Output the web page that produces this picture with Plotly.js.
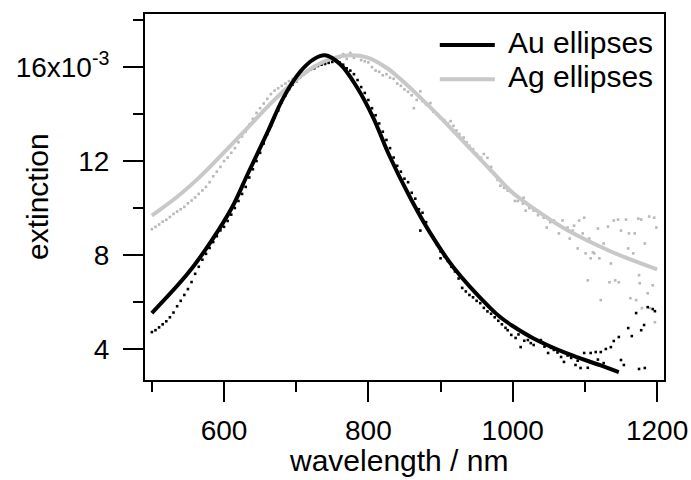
<!DOCTYPE html>
<html>
<head>
<meta charset="utf-8">
<script src="https://cdn.plot.ly/plotly-3.0.1.min.js"></script>
<style>html,body{margin:0;padding:0;background:#fff;}#chart{width:691px;height:480px;}</style>
</head>
<body>
<div id="chart"></div>
<script>
// extinction values in units of 1e-3
const auFitX = [500,550,583,611,633,661,682,706,725,740,761,785,807,828,858,886,918,969,983,1000,1029,1076,1122,1147];
const auFitY = [5.53,7.22,8.62,10.02,11.46,13.28,14.68,15.82,16.35,16.5,16.12,15.1,13.83,12.3,10.44,8.92,7.47,5.74,5.35,4.98,4.45,3.80,3.30,3.02];

const agFitX = [500,536,569,601,629,668,696,724,751,775,799,826,844,872,900,928,956,979,1000,1040,1076,1136,1200];
const agFitY = [9.68,10.50,11.40,12.40,13.30,14.55,15.35,16.00,16.38,16.50,16.40,15.95,15.50,14.70,13.85,12.95,12.05,11.30,10.65,9.75,9.05,8.15,7.39];

const auDotX = [500,505,510,515,520,525,530,535,540,545,550,555,560,565,570,575,580,585,590,595,600,605,610,615,620,625,630,635,640,645,650,655,660,665,670,675,680,685,690,695,700,705,710,715,720,725,730,735,740,745,750,755,760,765,770,775,780,785,790,795,800,805,810,815,820,825,830,835,840,845,850,855,860,865,870,872,875,880,885,890,895,900,900,905,910,915,920,925,930,935,940,945,950,955,960,965,970,975,980,985,990,993,998,1004,1008,1011,1016,1021,1025,1029,1034,1039,1044,1049,1053,1057,1062,1067,1071,1076,1081,1087,1090,1094,1099,1104,1108,1115,1118,1122,1126,1129,1136,1140,1147,1150,1154,1160,1165,1171,1175,1178,1182,1183,1187,1194,1197];
const auDotY = [4.72,4.80,4.92,5.05,5.18,5.35,5.55,5.82,6.05,6.30,6.55,6.85,7.20,7.50,7.80,8.05,8.30,8.55,8.80,9.05,9.20,9.45,9.72,10.00,10.30,10.60,10.90,11.30,11.65,12.00,12.35,12.75,13.15,13.50,13.85,14.15,14.50,14.80,15.05,15.25,15.40,15.55,15.70,15.80,15.90,15.95,16.05,16.10,16.15,16.18,16.22,16.25,16.20,16.10,15.95,15.85,15.70,15.45,15.15,14.90,14.60,14.25,13.95,13.60,13.25,12.90,12.55,12.15,11.80,11.55,11.25,11.10,10.65,10.40,9.95,9.04,9.80,9.40,9.00,8.75,8.45,8.15,7.86,7.95,7.75,7.50,7.30,7.00,6.60,6.45,6.30,6.20,6.05,5.95,5.75,5.60,5.50,5.35,5.20,5.05,4.90,4.80,4.60,4.47,4.62,4.08,4.35,4.38,4.25,4.17,4.35,4.38,4.10,3.83,4.05,3.96,3.85,3.66,3.45,3.72,3.62,3.32,3.50,3.19,3.83,3.20,3.83,3.87,3.55,3.87,3.40,4.00,4.08,4.34,4.51,3.53,3.32,4.89,4.55,5.53,3.15,4.80,5.02,3.19,5.78,5.70,5.61];

const agDotX = [500,505,510,515,520,525,530,535,540,545,550,555,560,565,570,575,580,585,590,595,600,605,610,615,620,625,630,635,640,645,650,655,660,665,670,675,680,685,690,695,700,705,710,715,720,725,730,735,740,745,750,755,760,765,770,775,780,785,790,795,800,805,810,815,820,825,830,835,840,845,850,855,860,863,867,872,875,880,886,890,895,900,905,910,914,918,922,926,932,936,940,945,950,956,960,965,970,974,979,983,988,993,1001,1003,1007,1014,1015,1018,1023,1029,1035,1043,1047,1052,1057,1064,1069,1076,1079,1083,1085,1090,1092,1097,1099,1101,1104,1106,1108,1111,1113,1118,1120,1122,1126,1132,1134,1136,1140,1142,1146,1147,1150,1157,1160,1161,1163,1167,1169,1171,1174,1175,1176,1178,1179,1183,1187,1189,1190,1194,1196,1197,1199];
const agDotY = [9.10,9.20,9.30,9.42,9.50,9.62,9.75,9.85,9.95,10.05,10.20,10.32,10.45,10.60,10.75,10.90,11.10,11.35,11.55,11.75,12.00,12.15,12.35,12.55,12.80,13.05,13.25,13.55,13.80,14.05,14.25,14.45,14.65,14.85,15.00,15.10,15.20,15.30,15.40,15.50,15.60,15.70,15.75,15.85,15.95,16.00,16.05,16.15,16.10,16.25,16.30,16.35,16.40,16.55,16.35,16.60,16.40,16.50,16.30,16.25,16.20,16.00,15.85,15.80,15.65,15.70,15.55,15.50,15.30,15.20,15.05,14.95,14.80,14.25,14.60,14.97,14.55,14.40,14.47,14.10,14.00,13.83,13.75,13.60,13.70,13.50,13.30,13.15,13.00,12.80,12.65,12.50,12.30,12.14,12.30,12.14,11.75,11.46,11.20,10.95,10.86,10.74,10.60,10.30,10.30,10.19,10.44,9.89,10.00,9.89,9.70,9.59,9.17,9.40,9.47,8.92,9.47,9.17,8.70,9.04,9.25,8.28,9.47,8.92,9.59,8.07,6.92,8.70,7.86,8.11,8.07,9.13,7.86,6.08,8.49,9.21,6.84,7.64,9.47,6.92,9.51,6.84,9.04,9.51,8.28,8.92,6.16,8.07,8.92,6.08,9.55,7.14,6.80,9.51,5.74,8.49,6.37,9.64,5.74,6.71,9.59,5.14,9.17];

const xTickVals = [600,800,1000,1200];
const yTickVals = [4,8,12,16];
const yTickText = ['4','8','12','16x10<sup>-3</sup>'];
const seriesNames = ['Au ellipses','Ag ellipses'];
const xTitle = 'wavelength / nm';
const yTitle = 'extinction';

const FONT = 'Liberation Sans, Arial, Helvetica, sans-serif';
const GRAY_LINE = '#c8c8c8';
const GRAY_DOT = '#b8b8b8';

const traces = [
  {x: agDotX, y: agDotY, mode:'markers', type:'scatter', showlegend:false,
   marker:{symbol:'square', size:2.6, color:GRAY_DOT, line:{width:0}}},
  {x: auDotX, y: auDotY, mode:'markers', type:'scatter', showlegend:false,
   marker:{symbol:'square', size:2.6, color:'#000', line:{width:0}}},
  {x: agFitX, y: agFitY, mode:'lines', type:'scatter', name:seriesNames[1], showlegend:false,
   line:{color:GRAY_LINE, width:4, shape:'spline', smoothing:1}},
  {x: auFitX, y: auFitY, mode:'lines', type:'scatter', name:seriesNames[0], showlegend:false,
   line:{color:'#000', width:4, shape:'spline', smoothing:1}}
];

const axisCommon = {
  showline:true, linecolor:'#000', linewidth:2, mirror:true,
  ticks:'outside', ticklen:20, tickwidth:2, tickcolor:'#000',
  showgrid:false, zeroline:false,
  tickfont:{family:FONT, size:28, color:'#000'}
};

const layout = {
  width:691, height:480,
  margin:{l:145, r:27, t:14, b:100},
  paper_bgcolor:'#fff', plot_bgcolor:'#fff',
  font:{family:FONT, color:'#000'},
  xaxis: Object.assign({}, axisCommon, {
    range:[490.5, 1209.6], tickmode:'array', tickvals:xTickVals,
    minor:{tickmode:'linear', tick0:0, dtick:100, ticks:'outside', ticklen:10, tickwidth:2, tickcolor:'#000'},
    ticklabelstandoff:4
  }),
  yaxis: Object.assign({}, axisCommon, {
    range:[2.68, 18.26], tickmode:'array', tickvals:yTickVals, ticktext:yTickText,
    minor:{tickmode:'linear', tick0:0, dtick:2, ticks:'outside', ticklen:10, tickwidth:2, tickcolor:'#000'},
    ticklabelstandoff:8
  }),
  shapes:[
    {type:'line', xref:'paper', yref:'paper', x0:0.568, x1:0.674, y0:0.915, y1:0.915, line:{color:'#000', width:4}},
    {type:'line', xref:'paper', yref:'paper', x0:0.568, x1:0.674, y0:0.822, y1:0.822, line:{color:GRAY_LINE, width:4}}
  ],
  annotations:[
    {xref:'paper', yref:'paper', x:0.695, y:0.921, xanchor:'left', yanchor:'middle', showarrow:false,
     text:seriesNames[0], font:{family:FONT, size:30, color:'#000'}},
    {xref:'paper', yref:'paper', x:0.695, y:0.828, xanchor:'left', yanchor:'middle', showarrow:false,
     text:seriesNames[1], font:{family:FONT, size:30, color:'#000'}},
    {xref:'paper', yref:'paper', x:-0.208, y:0.5, xanchor:'center', yanchor:'middle', showarrow:false,
     textangle:-90, text:yTitle, font:{family:FONT, size:30, color:'#000'}},
    {xref:'paper', yref:'paper', x:0.488, y:-0.22, xanchor:'center', yanchor:'middle', showarrow:false,
     text:xTitle, font:{family:FONT, size:30, color:'#000'}}
  ]
};

Plotly.newPlot('chart', traces, layout, {displayModeBar:false, staticPlot:true});
</script>
</body>
</html>
